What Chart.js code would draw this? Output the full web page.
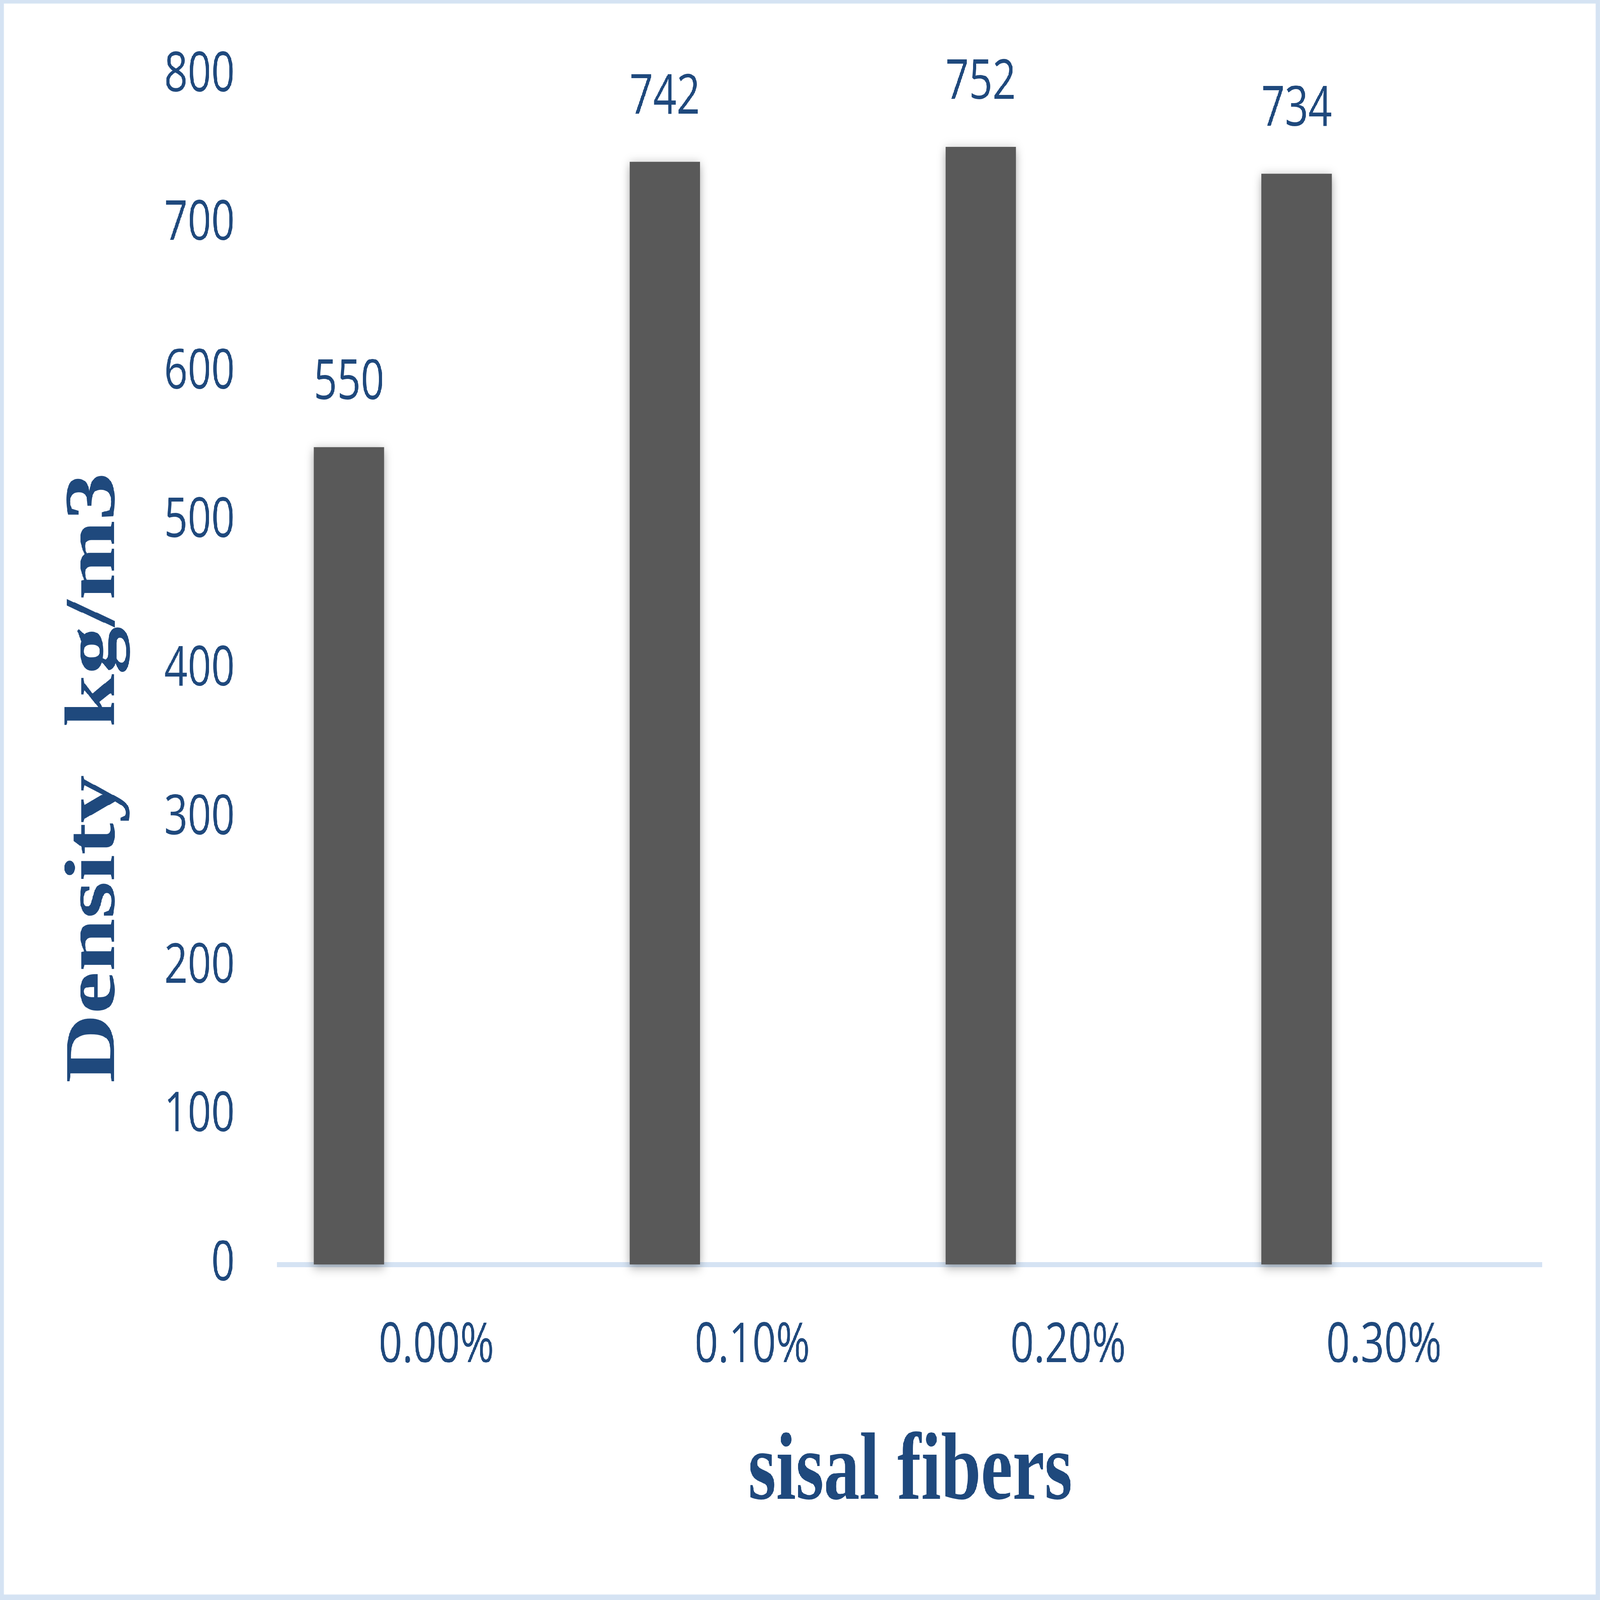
<!DOCTYPE html>
<html lang="en">
<head>
<meta charset="UTF-8">
<title>Density vs sisal fibers</title>
<script src="https://cdn.jsdelivr.net/npm/chart.js@4.4.1/dist/chart.umd.min.js"></script>
<style>
  html, body { margin: 0; padding: 0; background: #ffffff; overflow: hidden; }
  #wrap {
    position: absolute; left: 0; top: 0;
    width: 5677px; height: 4254px;
    transform-origin: 0 0;
    background: #ffffff;
  }
  #myChart { display: block; }
  #frame {
    position: absolute; left: 0; top: 0; right: 0; bottom: 0;
    border-style: solid; border-color: #D5E3F3;
    border-width: 9px 15px 15px 14px;
    pointer-events: none;
  }
</style>
</head>
<body>
<div id="wrap">
  <canvas id="myChart" width="5677" height="4254"></canvas>
  <div id="frame"></div>
</div>
<script>
const categories = ['0.00%', '0.10%', '0.20%', '0.30%'];
const densityValues = [550, 742, 752, 734];
const emptySeries = [null, null, null, null];
const yTicks = [0, 100, 200, 300, 400, 500, 600, 700, 800];

const textBlue = '#1F497D';
const tickFont = { family: 'Open Sans', size: 146 };

// the chart is laid out at 5677 x 4254 and stretched to whatever the window is
const wrap = document.getElementById('wrap');
wrap.style.transform = 'scale(' + (window.innerWidth / 5677) + ',' + (window.innerHeight / 4254) + ')';

// soft shadow under the bars, like the office chart
const barShadow = {
  id: 'barShadow',
  beforeDatasetsDraw(chart) {
    const ctx = chart.ctx;
    ctx.save();
    ctx.shadowColor = 'rgba(0,0,0,0.35)';
    ctx.shadowBlur = 28;
    ctx.shadowOffsetX = 0;
    ctx.shadowOffsetY = 7;
  },
  afterDatasetsDraw(chart) {
    const ctx = chart.ctx;
    ctx.restore();
    // value labels above the bars
    const meta = chart.getDatasetMeta(0);
    ctx.save();
    ctx.fillStyle = textBlue;
    ctx.font = '146px "Open Sans"';
    ctx.textAlign = 'center';
    ctx.textBaseline = 'alphabetic';
    meta.data.forEach((bar, i) => {
      ctx.fillText(String(densityValues[i]), bar.x, bar.y - 128);
    });
    ctx.restore();
  }
};

// axis titles
const axisTitles = {
  id: 'axisTitles',
  afterDraw(chart) {
    const ctx = chart.ctx;
    const area = chart.chartArea;
    ctx.save();
    ctx.fillStyle = textBlue;
    ctx.font = 'bold 254px "Liberation Serif"';
    ctx.textAlign = 'center';
    ctx.textBaseline = 'alphabetic';
    ctx.fillText('sisal fibers', (area.left + area.right) / 2, 3985);
    ctx.translate(405, 2068);
    ctx.rotate(-Math.PI / 2);
    ctx.fillText('Density  kg/m3', 0, 0);
    ctx.restore();
  }
};

const ctx = document.getElementById('myChart').getContext('2d');
const myChart = new Chart(ctx, {
  type: 'bar',
  data: {
    labels: categories,
    datasets: [
      {
        label: 'Density',
        data: densityValues,
        backgroundColor: '#595959',
        borderWidth: 0,
        clip: false
      },
      { label: '', data: emptySeries, backgroundColor: '#595959' },
      { label: '', data: emptySeries, backgroundColor: '#595959' }
    ]
  },
  options: {
    responsive: false,
    devicePixelRatio: 1,
    animation: false,
    categoryPercentage: 0.83,
    barPercentage: 0.806,
    layout: { padding: { left: 0, right: 206, top: 201, bottom: 0 } },
    plugins: {
      legend: { display: false },
      tooltip: { enabled: false }
    },
    scales: {
      x: {
        z: 1,
        grid: { display: false, drawTicks: false },
        border: { display: true, color: '#D5E3F3', width: 13 },
        ticks: { color: textBlue, font: tickFont, padding: 131 },
        afterFit(scale) { scale.height = 892; }
      },
      y: {
        min: 0,
        max: 800,
        grid: { display: false, drawTicks: false },
        border: { display: false },
        afterBuildTicks(scale) { scale.ticks = yTicks.map((v) => ({ value: v })); },
        ticks: { color: textBlue, font: tickFont, padding: 155 },
        afterFit(scale) {
          scale.width = 988;
          // keep the top of the plot at the 800 line
          scale.paddingTop = 0;
          scale.paddingBottom = 0;
        }
      }
    }
  },
  plugins: [barShadow, axisTitles]
});
</script>
</body>
</html>
